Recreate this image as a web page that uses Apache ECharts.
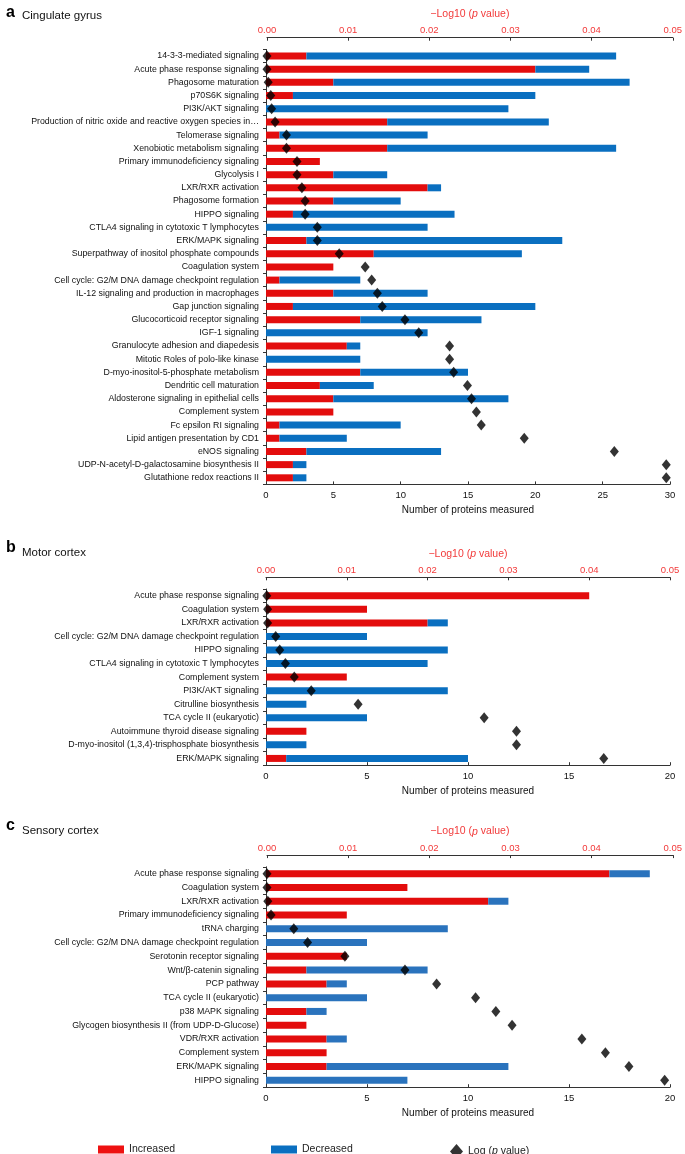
<!DOCTYPE html>
<html><head><meta charset="utf-8">
<script src="https://cdn.jsdelivr.net/npm/echarts@6/dist/echarts.min.js"></script>
<style>html,body{margin:0;padding:0;background:#fff}#c{width:685px;height:1154px}</style>
</head><body><div id="c"></div>
<script>
// ---------- Panel a: Cingulate gyrus ----------
const catsA = ['14-3-3-mediated signaling','Acute phase response signaling','Phagosome maturation','p70S6K signaling','PI3K/AKT signaling','Production of nitric oxide and reactive oxygen species in\u2026','Telomerase signaling','Xenobiotic metabolism signaling','Primary immunodeficiency signaling','Glycolysis I','LXR/RXR activation','Phagosome formation','HIPPO signaling','CTLA4 signaling in cytotoxic T lymphocytes','ERK/MAPK signaling','Superpathway of inositol phosphate compounds','Coagulation system','Cell cycle: G2/M DNA damage checkpoint regulation','IL-12 signaling and production in macrophages','Gap junction signaling','Glucocorticoid receptor signaling','IGF-1 signaling','Granulocyte adhesion and diapedesis','Mitotic Roles of polo-like kinase','D-myo-inositol-5-phosphate metabolism','Dendritic cell maturation','Aldosterone signaling in epithelial cells','Complement system','Fc epsilon RI signaling','Lipid antigen presentation by CD1','eNOS signaling','UDP-N-acetyl-D-galactosamine biosynthesis II','Glutathione redox reactions II'];
const incA = [3,20,5,2,0,9,1,9,4,5,12,5,2,0,3,8,5,1,5,2,7,0,6,0,7,4,5,5,1,1,3,2,2];
const decA = [23,4,22,18,18,12,11,17,0,4,1,5,12,12,19,11,0,6,7,18,9,12,1,7,8,4,13,0,9,5,10,1,1];
const pA = [0,0,0.00015,0.00046,0.00057,0.001,0.0024,0.0024,0.0037,0.0037,0.0043,0.0047,0.0047,0.0062,0.0062,0.0089,0.0121,0.0129,0.0136,0.0142,0.017,0.0187,0.0225,0.0225,0.023,0.0247,0.0252,0.0258,0.0264,0.0317,0.0428,0.0492,0.0492];

// ---------- Panel b: Motor cortex ----------
const catsB = ['Acute phase response signaling','Coagulation system','LXR/RXR activation','Cell cycle: G2/M DNA damage checkpoint regulation','HIPPO signaling','CTLA4 signaling in cytotoxic T lymphocytes','Complement system','PI3K/AKT signaling','Citrulline biosynthesis','TCA cycle II (eukaryotic)','Autoimmune thyroid disease signaling','D-myo-inositol (1,3,4)-trisphosphate biosynthesis','ERK/MAPK signaling'];
const incB = [16,5,8,0,0,0,4,0,0,0,2,0,1];
const decB = [0,0,1,5,9,8,0,9,2,5,0,2,9];
const pB = [0.0001,0.0002,0.0002,0.0012,0.0017,0.0024,0.0035,0.0056,0.0114,0.027,0.031,0.031,0.0418];

// ---------- Panel c: Sensory cortex ----------
const catsC = ['Acute phase response signaling','Coagulation system','LXR/RXR activation','Primary immunodeficiency signaling','tRNA charging','Cell cycle: G2/M DNA damage checkpoint regulation','Serotonin receptor signaling','Wnt/\u03b2-catenin signaling','PCP pathway','TCA cycle II (eukaryotic)','p38 MAPK signaling','Glycogen biosynthesis II (from UDP-D-Glucose)','VDR/RXR activation','Complement system','ERK/MAPK signaling','HIPPO signaling'];
const incC = [17,7,11,4,0,0,4,2,3,0,2,2,3,3,3,0];
const decC = [2,0,1,0,9,5,0,6,1,5,1,0,1,0,9,7];
const pC = [0,0,0.0001,0.0005,0.0033,0.005,0.0096,0.017,0.0209,0.0257,0.0282,0.0302,0.0388,0.0417,0.0446,0.049];

const titles = [['a','Cingulate gyrus'],['b','Motor cortex'],['c','Sensory cortex']];
const xMaxes = [30,20,20];

const FN = "'Liberation Sans Narrow','Arial Narrow','Liberation Sans',sans-serif";
const FR = "'Liberation Sans',Arial,Helvetica,sans-serif";
const RED = '#e30d0d', BLUE = '#0a6fc0', BLUE_C = '#2a73bd', TXTRED = '#f23a3a', AX = '#333';

// layout (pixels)
const L = [
  {bar:{left:266,right:15,top:49.4,height:435}, sc:{left:267,right:9}, titleTop:0, subTop:5},
  {bar:{left:266,right:15,top:589,height:176.2}, sc:{left:266,right:15}, titleTop:535, subTop:542},
  {bar:{left:266,right:15,top:866.8,height:220.4}, sc:{left:267,right:12}, titleTop:813, subTop:820}
];

const panels = [
  {cats:catsA, inc:incA, dec:decA, p:pA, blue:BLUE},
  {cats:catsB, inc:incB, dec:decB, p:pB, blue:BLUE},
  {cats:catsC, inc:incC, dec:decC, p:pC, blue:BLUE_C}
];

const grid=[], xAxis=[], yAxis=[], series=[], title=[];
panels.forEach((P,i)=>{
  const lay = L[i];
  grid.push(Object.assign({}, lay.bar));
  grid.push({left:lay.sc.left, right:lay.sc.right, top:lay.bar.top, height:lay.bar.height});
  title.push({text:titles[i][0], left:1, top:lay.titleTop, textStyle:{fontFamily:FR, fontWeight:'bold', fontSize:16, color:'#000'}});
  title.push({text:titles[i][1], left:17, top:lay.subTop, textStyle:{fontFamily:FR, fontWeight:'normal', fontSize:11.5, color:'#111'}});
  // bottom axis (bars)
  xAxis.push({type:'value', gridIndex:2*i, position:'bottom', min:0, max:xMaxes[i], interval:5,
    name:'Number of proteins measured', nameLocation:'middle', nameGap:21,
    nameTextStyle:{fontFamily:FN, fontSize:10, color:'#111'},
    axisLine:{show:true, lineStyle:{color:AX, width:1}},
    axisTick:{show:true, inside:true, length:3, lineStyle:{color:AX}},
    axisLabel:{fontFamily:FN, fontSize:9.5, color:'#111', margin:6},
    splitLine:{show:false}});
  // top axis (p values)
  xAxis.push({type:'value', gridIndex:2*i+1, position:'top', offset:11.7, min:0, max:0.05, interval:0.01,
    name:'{a|\u2212Log10 (}{i|p}{a| value)}', nameLocation:'middle', nameGap:18,
    nameTextStyle:{color:TXTRED, rich:{a:{fontFamily:FN, fontSize:10.5, color:TXTRED}, i:{fontFamily:FN, fontSize:10.5, fontStyle:'italic', color:TXTRED}}},
    axisLine:{show:true, lineStyle:{color:AX, width:1}},
    axisTick:{show:true, inside:true, length:3, lineStyle:{color:AX}},
    axisLabel:{fontFamily:FN, fontSize:9.5, color:TXTRED, margin:2, formatter:v=>v.toFixed(2)},
    splitLine:{show:false}});
  yAxis.push({type:'category', gridIndex:2*i, data:P.cats, inverse:true,
    axisLine:{show:true, lineStyle:{color:AX, width:1}},
    axisTick:{show:true, length:3, lineStyle:{color:AX}},
    axisLabel:{fontFamily:FN, fontSize:8.8, color:'#111', margin:7},
    splitLine:{show:false}});
  yAxis.push({type:'category', gridIndex:2*i+1, data:P.cats, inverse:true, show:false});
  series.push({name:'Increased', type:'bar', stack:'s'+i, xAxisIndex:2*i, yAxisIndex:2*i, barWidth:7,
    itemStyle:{color:RED}, data:P.inc, z:2});
  series.push({name:'Decreased', type:'bar', stack:'s'+i, xAxisIndex:2*i, yAxisIndex:2*i, barWidth:7,
    itemStyle:{color:P.blue}, data:P.dec, z:2});
  series.push({name:'Log (p value)', type:'scatter', xAxisIndex:2*i+1, yAxisIndex:2*i+1,
    symbol:'diamond', symbolSize:[9,11], itemStyle:{color:'#000'}, z:5,
    data:P.p.map((v,k)=>[v,k])});
});

const legBase = {top:1139, itemGap:10, textStyle:{fontFamily:FR, fontSize:10.5, color:'#222'}, selectedMode:false};
const legend = [
  Object.assign({}, legBase, {left:93, data:[{name:'Increased', icon:'rect'}], itemWidth:26, itemHeight:8, itemStyle:{color:'#ee1111'}}),
  Object.assign({}, legBase, {left:266, data:[{name:'Decreased', icon:'rect'}], itemWidth:26, itemHeight:8, itemStyle:{color:BLUE}}),
  Object.assign({}, legBase, {left:445, data:[{name:'Log (p value)', icon:'diamond'}], itemWidth:13, itemHeight:15,
    formatter:()=> '{a|Log (}{i|p}{a| value)}',
    textStyle:{fontFamily:FR, fontSize:10.5, color:'#222', rich:{a:{fontFamily:FR, fontSize:10.5, color:'#222'}, i:{fontFamily:FR, fontSize:10.5, fontStyle:'italic', color:'#222'}}}})
];

const chart = echarts.init(document.getElementById('c'), null, {renderer:'canvas'});
chart.setOption({animation:false, backgroundColor:'#fff', title, grid, xAxis, yAxis, series, legend});
</script></body></html>
